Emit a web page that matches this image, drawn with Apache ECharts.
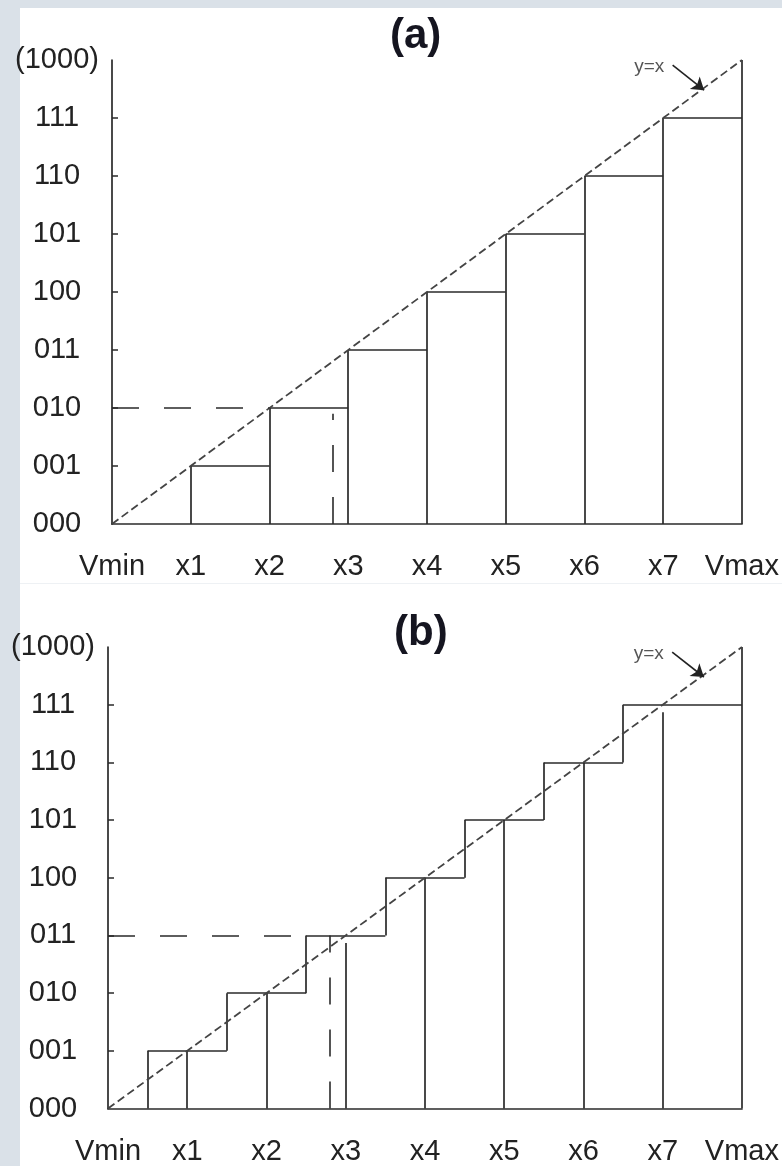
<!DOCTYPE html>
<html>
<head>
<meta charset="utf-8">
<script src="https://cdn.jsdelivr.net/npm/echarts@6/dist/echarts.min.js"></script>
<style>
    html, body { margin: 0; padding: 0; background: #ffffff; }
    #quantCharts { width: 782px; height: 1166px; }
</style>
</head>
<body>
<div id="quantCharts"></div>
<script>
// axis tick labels
var xTickLabels = ['Vmin', 'x1', 'x2', 'x3', 'x4', 'x5', 'x6', 'x7', 'Vmax'];
var yTickLabels = ['000', '001', '010', '011', '100', '101', '110', '111', '(1000)'];

// (a) truncating quantizer: output level k for x in [k, k+1)
var aStepFrom = [1, 2, 3, 4, 5, 6, 7];
var aStepTo   = [2, 3, 4, 5, 6, 7, 8];
var aLevel    = [1, 2, 3, 4, 5, 6, 7];
var aDropX    = [1, 2, 3, 4, 5, 6, 7, 8];
var aDropTop  = [1, 2, 3, 4, 5, 6, 7, 8];
var aGuideLevel = 2, aGuideLevelEnd = 2, aGuideX = 2.8, aGuideXTop = 1.9;

// (b) rounding quantizer: output level k for x in [k-0.5, k+0.5)
var bStepFrom = [0.5, 1.5, 2.5, 3.5, 4.5, 5.5, 6.5];
var bStepTo   = [1.5, 2.5, 3.5, 4.5, 5.5, 6.5, 8];
var bLevel    = [1, 2, 3, 4, 5, 6, 7];
var bDropX    = [1, 2, 3, 4, 5, 6, 7, 8];
var bDropTop  = [1, 2, 2.87, 4, 5, 6, 6.87, 8];
var bGuideLevel = 3, bGuideLevelEnd = 2.5, bGuideX = 2.8, bGuideXTop = 3;

// y=x note and its arrow
var noteAt = [7.04, 7.88];
var arrowFrom = [7.12, 7.91];
var arrowTo = [7.52, 7.48];

var ink = '#2a2a2a';
var font = 'Liberation Sans';

function seg(p, q) {
    return { coords: [p, q] };
}

function stairsA() {
    var d = [];
    for (var i = 0; i < aLevel.length; i++) {
        d.push(seg([aStepFrom[i], aLevel[i]], [aStepTo[i], aLevel[i]]));
    }
    for (var j = 0; j < aDropX.length; j++) {
        d.push(seg([aDropX[j], 0], [aDropX[j], aDropTop[j]]));
    }
    return d;
}

function stairsB() {
    var d = [];
    for (var i = 0; i < bLevel.length; i++) {
        var prev = i === 0 ? 0 : bLevel[i - 1];
        d.push(seg([bStepFrom[i], prev], [bStepFrom[i], bLevel[i]]));
        d.push(seg([bStepFrom[i], bLevel[i]], [bStepTo[i], bLevel[i]]));
    }
    for (var j = 0; j < bDropX.length; j++) {
        d.push(seg([bDropX[j], 0], [bDropX[j], bDropTop[j]]));
    }
    return d;
}

function xAxisOf(idx) {
    return {
        type: 'value', gridIndex: idx, min: 0, max: 8, interval: 1,
        axisLine: { show: true, lineStyle: { color: ink, width: 1.7 } },
        axisTick: { show: false },
        splitLine: { show: false },
        axisLabel: {
            margin: 43, verticalAlign: 'middle',
            fontSize: 29, fontFamily: font, color: '#222',
            formatter: function (v) { return xTickLabels[v]; }
        }
    };
}

function yAxisOf(idx, margin) {
    return {
        type: 'value', gridIndex: idx, min: 0, max: 8, interval: 1,
        axisLine: { show: true, onZero: false, lineStyle: { color: ink, width: 1.7 } },
        axisTick: { show: true, inside: true, length: 6, customValues: [1, 2, 3, 4, 5, 6, 7],
            lineStyle: { color: ink, width: 1.5 } },
        splitLine: { show: false },
        axisLabel: {
            margin: margin, align: 'center',
            fontSize: 29, fontFamily: font, color: '#222',
            formatter: function (v) { return yTickLabels[v]; }
        }
    };
}

function panelSeries(idx, stairs, gLevel, gLevelEnd, gX, gXTop) {
    return [
        {
            type: 'lines', coordinateSystem: 'cartesian2d', xAxisIndex: idx, yAxisIndex: idx,
            silent: true, lineStyle: { color: ink, width: 1.7, opacity: 1 },
            data: stairs
        },
        {
            // y = x reference
            type: 'lines', coordinateSystem: 'cartesian2d', xAxisIndex: idx, yAxisIndex: idx,
            silent: true, lineStyle: { color: '#444', width: 1.8, type: [8, 4], opacity: 1 },
            data: [seg([0, 0], [8, 8])]
        },
        {
            // guide lines
            type: 'lines', coordinateSystem: 'cartesian2d', xAxisIndex: idx, yAxisIndex: idx,
            silent: true, lineStyle: { color: ink, width: 1.6, type: [27, 25], opacity: 1 },
            data: [seg([0, gLevel], [gLevelEnd, gLevel]), seg([gX, 0], [gX, gXTop])]
        },
        {
            type: 'lines', coordinateSystem: 'cartesian2d', xAxisIndex: idx, yAxisIndex: idx,
            silent: true, symbol: ['none', 'arrow'], symbolSize: 12,
            lineStyle: { color: '#222', width: 1.6, opacity: 1 },
            data: [seg(arrowFrom, arrowTo)]
        },
        {
            type: 'scatter', xAxisIndex: idx, yAxisIndex: idx, symbolSize: 0, silent: true,
            label: { show: true, position: 'left', distance: 2, formatter: 'y=x',
                fontSize: 19, fontFamily: font, color: '#2a2a2a' },
            data: [noteAt]
        }
    ];
}

var myChart = echarts.init(document.getElementById('quantCharts'));

var option = {
    backgroundColor: '#ffffff',
    animation: false,
    title: [
        { text: '(a)', left: 385, top: 10,
          textStyle: { fontSize: 42, fontWeight: 'bold', fontFamily: font, color: '#151520' } },
        { text: '(b)', left: 389, top: 607,
          textStyle: { fontSize: 42, fontWeight: 'bold', fontFamily: font, color: '#151520' } }
    ],
    graphic: [
        { type: 'rect', left: 0, top: 0, shape: { width: 20, height: 1166 }, style: { fill: '#dae1e8' }, silent: true },
        { type: 'rect', left: 0, top: 0, shape: { width: 782, height: 8 }, style: { fill: '#dae1e8' }, silent: true },
        { type: 'rect', left: 20, top: 583, shape: { width: 762, height: 1 }, style: { fill: '#eef1f4' }, silent: true }
    ],
    grid: [
        { left: 112, top: 60, width: 633, height: 464 },
        { left: 108, top: 647, width: 634, height: 464 }
    ],
    xAxis: [xAxisOf(0), xAxisOf(1)],
    yAxis: [yAxisOf(0, 55), yAxisOf(1, 55)],
    series: panelSeries(0, stairsA(), aGuideLevel, aGuideLevelEnd, aGuideX, aGuideXTop)
        .concat(panelSeries(1, stairsB(), bGuideLevel, bGuideLevelEnd, bGuideX, bGuideXTop))
};

myChart.setOption(option);
</script>
</body>
</html>
